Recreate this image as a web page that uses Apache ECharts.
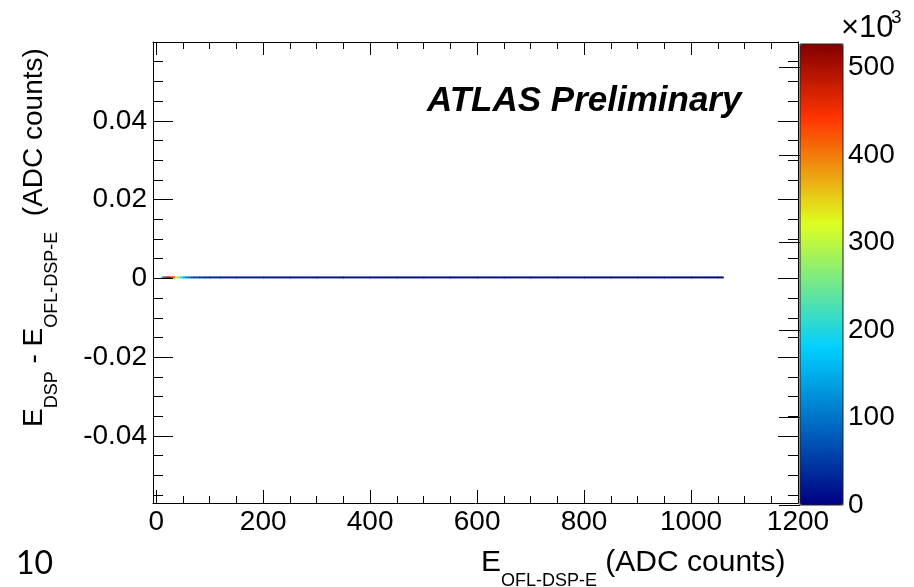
<!DOCTYPE html>
<html>
<head>
<meta charset="utf-8">
<script src="https://cdn.jsdelivr.net/npm/echarts@6/dist/echarts.min.js"></script>
<style>
  html, body { margin: 0; padding: 0; background: #ffffff; }
  #chart { width: 914px; height: 587px; }
</style>
</head>
<body>
<div id="chart"></div>
<script>
// Energy bins along E_OFL-DSP-E (ADC counts); all entries sit in the zero-difference row
const binLow  = [10, 15, 20, 25, 30, 35, 40, 45, 50, 55, 60, 65, 70, 80, 90, 100, 120, 150,
                 200, 250, 300, 350, 400, 450, 500, 550, 600, 650, 700, 750, 800, 850, 900, 950, 1000, 1050];
const binHigh = [15, 20, 25, 30, 35, 40, 45, 50, 55, 60, 65, 70, 80, 90, 100, 120, 150, 200,
                 250, 300, 350, 400, 450, 500, 550, 600, 650, 700, 750, 800, 850, 900, 950, 1000, 1050, 1060];
// Entries per bin, in units of 10^3
const binCount = [130, 480, 505, 470, 420, 340, 255, 195, 150, 120, 95, 75, 58, 45, 38, 32, 27, 23,
                  20, 18, 16, 15, 14, 13, 12, 11, 10, 10, 9, 9, 8, 8, 7, 7, 6, 5];
// E_DSP - E_OFL-DSP-E row edges (ADC counts)
const rowLow = 0;
const rowHigh = 0.0005;

// Axis ticks and labels
const xMajor = [0, 200, 400, 600, 800, 1000, 1200];
const xMinor = [0, 50, 100, 150, 200, 250, 300, 350, 400, 450, 500, 550, 600, 650, 700, 750, 800,
                850, 900, 950, 1000, 1050, 1100, 1150, 1200];
const yMajor = [-0.04, -0.02, 0, 0.02, 0.04];
const yMinor = [-0.055, -0.05, -0.045, -0.04, -0.035, -0.03, -0.025, -0.02, -0.015, -0.01, -0.005, 0,
                0.005, 0.01, 0.015, 0.02, 0.025, 0.03, 0.035, 0.04, 0.045, 0.05, 0.055, 0.06];
const zMajor = [0, 100, 200, 300, 400, 500];

const X_MIN = -6, X_MAX = 1200;
const Y_MIN = -0.057, Y_MAX = 0.06;
const Z_MIN = 0, Z_MAX = 527;

const FONT = '"Liberation Sans", Arial, Helvetica, sans-serif';

// Rainbow palette: gradient stops (fraction, rgb)
const paletteStops = [0, 0.34, 0.61, 0.84, 1];
const paletteRGB = [[0, 0, 130], [0, 207, 255], [222, 255, 31], [255, 51, 0], [130, 0, 0]];
function buildPalette(n) {
  const out = [];
  for (let i = 0; i < n; i++) {
    const t = i / (n - 1);
    let k = 0;
    while (k < paletteStops.length - 2 && t > paletteStops[k + 1]) k++;
    const f = (t - paletteStops[k]) / (paletteStops[k + 1] - paletteStops[k]);
    const a = paletteRGB[k], b = paletteRGB[k + 1];
    const c = a.map((v, j) => Math.round(v + (b[j] - v) * f));
    out.push('rgb(' + c.join(',') + ')');
  }
  return out;
}
const palette = buildPalette(256);

const lineStyle = { color: '#000', width: 1 };
const plain = v => String(v);

function xAxisDef(pos, ticks, len, withLine, withLabels) {
  return {
    type: 'value', gridIndex: 0, position: pos, min: X_MIN, max: X_MAX, z: 10,
    axisLine: { show: withLine, onZero: false, lineStyle: lineStyle },
    axisTick: { show: true, inside: true, length: len, customValues: ticks, lineStyle: lineStyle },
    axisLabel: withLabels ? {
      show: true, customValues: ticks, margin: 5, fontSize: 28, color: '#000', fontFamily: FONT,
      showMinLabel: true, showMaxLabel: true, formatter: plain
    } : { show: false },
    splitLine: { show: false }
  };
}
function yAxisDef(pos, ticks, len, withLine, withLabels) {
  return {
    type: 'value', gridIndex: 0, position: pos, min: Y_MIN, max: Y_MAX, z: 10,
    axisLine: { show: withLine, onZero: false, lineStyle: lineStyle },
    axisTick: { show: true, inside: true, length: len, customValues: ticks, lineStyle: lineStyle },
    axisLabel: withLabels ? {
      show: true, customValues: ticks, margin: 6, fontSize: 28, color: '#000', fontFamily: FONT,
      showMinLabel: true, showMaxLabel: true, formatter: plain
    } : { show: false },
    splitLine: { show: false }
  };
}

const chart = echarts.init(document.getElementById('chart'), null, { renderer: 'canvas' });

chart.setOption({
  animation: false,
  backgroundColor: '#ffffff',
  grid: [
    { left: 153, top: 42, width: 645, height: 461, containLabel: false, outerBoundsMode: 'none' },
    { left: 800, top: 44, width: 43, height: 461, containLabel: false, outerBoundsMode: 'none' }
  ],
  xAxis: [
    xAxisDef('bottom', xMajor, 13, true, true),
    xAxisDef('bottom', xMinor, 7, false, false),
    xAxisDef('top', xMajor, 13, true, false),
    xAxisDef('top', xMinor, 7, false, false),
    { type: 'value', gridIndex: 1, min: 0, max: 1, show: false }
  ],
  yAxis: [
    yAxisDef('left', yMajor, 20, true, true),
    yAxisDef('left', yMinor, 10, false, false),
    yAxisDef('right', yMajor, 20, true, false),
    yAxisDef('right', yMinor, 10, false, false),
    {
      type: 'value', gridIndex: 1, position: 'right', min: Z_MIN, max: Z_MAX, z: 10,
      axisLine: { show: false },
      axisTick: { show: true, inside: true, length: 21, customValues: zMajor, lineStyle: lineStyle },
      axisLabel: {
        show: true, customValues: zMajor, margin: 5, fontSize: 28, color: '#000', fontFamily: FONT,
        showMinLabel: true, showMaxLabel: true, formatter: plain
      },
      splitLine: { show: false }
    }
  ],
  visualMap: {
    type: 'continuous',
    min: Z_MIN, max: Z_MAX,
    dimension: 2,
    seriesIndex: 0,
    inRange: { color: palette },
    calculable: false,
    hoverLink: false,
    orient: 'vertical',
    left: 800, top: 44,
    itemWidth: 43, itemHeight: 461,
    padding: 0,
    z: 1
  },
  series: [{
    type: 'custom',
    coordinateSystem: 'cartesian2d',
    xAxisIndex: 0, yAxisIndex: 0,
    encode: { x: [0, 1], y: [3, 4] },
    data: binLow.map((lo, i) => [lo, binHigh[i], binCount[i], rowLow, rowHigh]),
    renderItem: function (params, api) {
      const p0 = api.coord([api.value(0), api.value(4)]);
      const p1 = api.coord([api.value(1), api.value(3)]);
      return {
        type: 'rect',
        shape: { x: p0[0], y: p0[1], width: p1[0] - p0[0] + 0.6, height: p1[1] - p0[1] },
        style: { fill: api.visual('color') }
      };
    },
    z: 2
  }],
  graphic: [
    {
      type: 'rect', z: 100, silent: true,
      shape: { x: 800, y: 44, width: 43, height: 461 },
      style: { fill: 'none', stroke: '#222', lineWidth: 1 }
    },
    {
      type: 'text', x: 427, y: 101, z: 100,
      style: {
        text: 'ATLAS Preliminary', fill: '#000', fontSize: 35, fontWeight: 'bold',
        fontStyle: 'italic', fontFamily: FONT, align: 'left', verticalAlign: 'middle'
      }
    },
    {
      type: 'text', x: 841, y: 28, z: 100,
      style: { text: '\u00d710', fill: '#000', fontSize: 31, fontFamily: FONT, align: 'left', verticalAlign: 'middle' }
    },
    {
      type: 'text', x: 891, y: 18, z: 100,
      style: { text: '3', fill: '#000', fontSize: 19, fontFamily: FONT, align: 'left', verticalAlign: 'middle' }
    },
    {
      type: 'text', x: 481, y: 548, z: 100,
      style: {
        text: '{m|E}{s|OFL-DSP-E}{m| (ADC counts)}',
        align: 'left', verticalAlign: 'top',
        rich: {
          m: { fontSize: 30, lineHeight: 30, verticalAlign: 'top', fontFamily: FONT, fill: '#000' },
          s: { fontSize: 18, lineHeight: 18, verticalAlign: 'top', fontFamily: FONT, fill: '#000', padding: [24, 0, 0, 0] }
        }
      }
    },
    {
      type: 'text', x: 20, y: 427, rotation: Math.PI / 2, z: 100,
      style: {
        text: '{m|E}{s|DSP}{m| - E}{s|OFL-DSP-E}{m|  (ADC counts)}',
        align: 'left', verticalAlign: 'top',
        rich: {
          m: { fontSize: 28, lineHeight: 28, verticalAlign: 'top', fontFamily: FONT, fill: '#000' },
          s: { fontSize: 18, lineHeight: 18, verticalAlign: 'top', fontFamily: FONT, fill: '#000', padding: [23, 0, 0, 0] }
        }
      }
    },
    {
      type: 'text', x: 16, y: 564, z: 100,
      style: { text: '10', fill: '#000', fontSize: 32, fontFamily: 'Lato, "Open Sans", sans-serif', align: 'left', verticalAlign: 'middle' }
    }
  ]
});
</script>
</body>
</html>
